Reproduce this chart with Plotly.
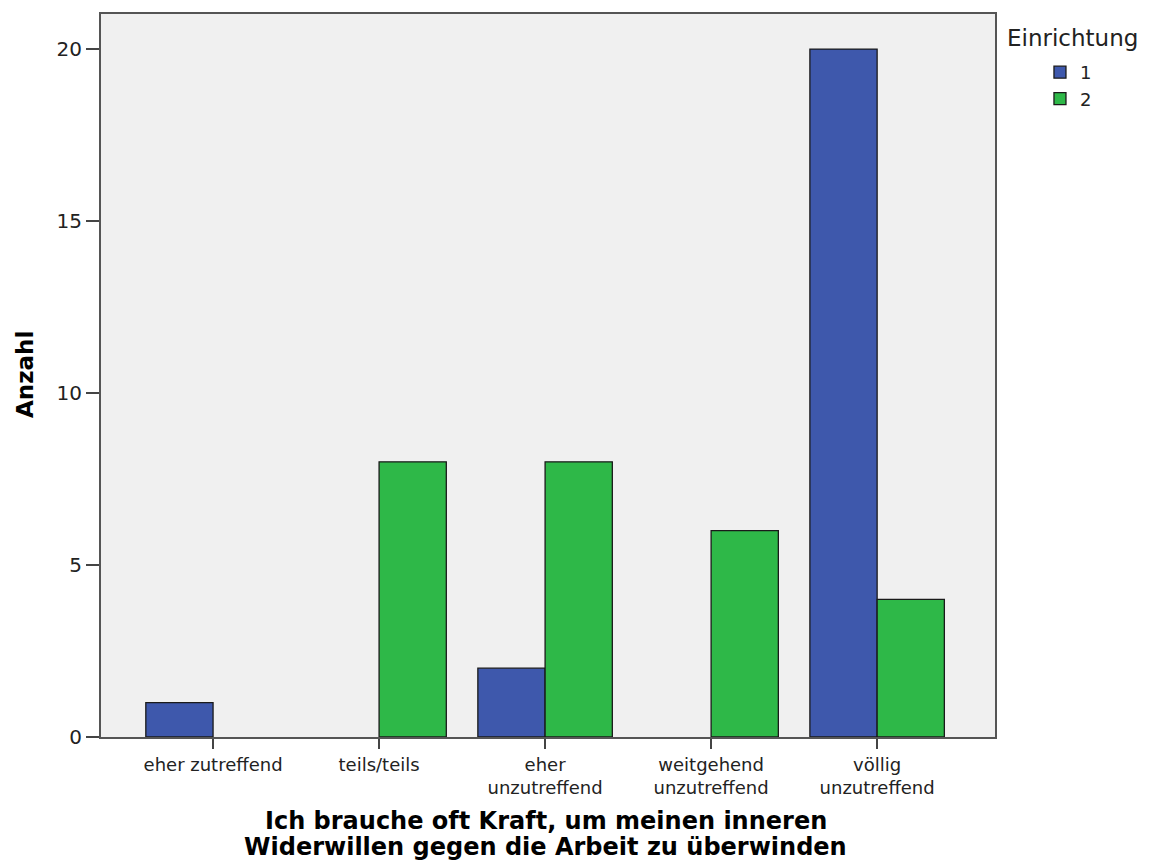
import plotly.graph_objects as go

categories = ["eher zutreffend", "teils/teils", "eher<br>unzutreffend",
              "weitgehend<br>unzutreffend", "völlig<br>unzutreffend"]
series_names = ["1", "2"]
values_1 = [1, 0, 2, 0, 20]
values_2 = [0, 8, 8, 6, 4]
y_ticks = [0, 5, 10, 15, 20]
x_title_lines = ["Ich brauche oft Kraft, um meinen inneren",
                 "Widerwillen gegen die Arbeit zu überwinden"]
y_title = "Anzahl"
legend_title = "Einrichtung"

x_pos = list(range(len(categories)))
FONT = "DejaVu Sans, Liberation Sans, Arial, sans-serif"

fig = go.Figure()
fig.add_trace(go.Bar(x=x_pos, y=[v if v else None for v in values_1], name=series_names[0],
                     marker=dict(color="#3E58AC", line=dict(color="#1a1a1a", width=1.3))))
fig.add_trace(go.Bar(x=x_pos, y=[v if v else None for v in values_2], name=series_names[1],
                     marker=dict(color="#2EB848", line=dict(color="#1a1a1a", width=1.3))))

annotations = [
    dict(text=legend_title, xref="paper", yref="paper", x=1.0112, y=0.9668,
         xanchor="left", yanchor="middle", showarrow=False,
         font=dict(size=23, color="#222")),
    dict(text="<b>%s</b>" % y_title, xref="paper", yref="paper", x=-0.085, y=0.5007,
         xanchor="center", yanchor="middle", textangle=-90, showarrow=False,
         font=dict(size=23, color="black")),
]
for i, line in enumerate(x_title_lines):
    annotations.append(dict(text="<b>%s</b>" % line, xref="paper", yref="paper",
                            x=0.4975, y=[-0.1162, -0.1522][i], xanchor="center", yanchor="middle",
                            showarrow=False, font=dict(size=24, color="black")))

fig.update_layout(
    width=1154, height=861,
    barmode="group", bargap=0.19, bargroupgap=0,
    paper_bgcolor="white", plot_bgcolor="#F0F0F0",
    margin=dict(l=101, r=159, t=14, b=124, autoexpand=False),
    font=dict(family=FONT, size=18, color="#222"),
    legend=dict(x=1.0503, y=0.9447, xanchor="left", yanchor="top",
                font=dict(size=18), bgcolor="rgba(0,0,0,0)", tracegroupgap=0,
                itemwidth=30),
    showlegend=True,
    annotations=annotations,
)
fig.update_xaxes(
    range=[-0.675, 4.71], tickmode="array", tickvals=x_pos, ticktext=categories,
    ticks="outside", ticklen=10, tickwidth=2, tickcolor="#444",
    showline=True, linecolor="#555", linewidth=2, mirror=True, showgrid=False,
    zeroline=False, automargin=False, tickfont=dict(size=18),
)
fig.update_yaxes(
    range=[0, 21.02], tickmode="array", tickvals=y_ticks,
    ticks="outside", ticklen=13, tickwidth=2, tickcolor="#444",
    showline=True, linecolor="#555", linewidth=2, mirror=True, showgrid=False,
    zeroline=False, automargin=False, tickfont=dict(size=20),
)

fig.write_html("out.html", config={"displayModeBar": False},
               post_script="document.body.style.margin='0px';")
